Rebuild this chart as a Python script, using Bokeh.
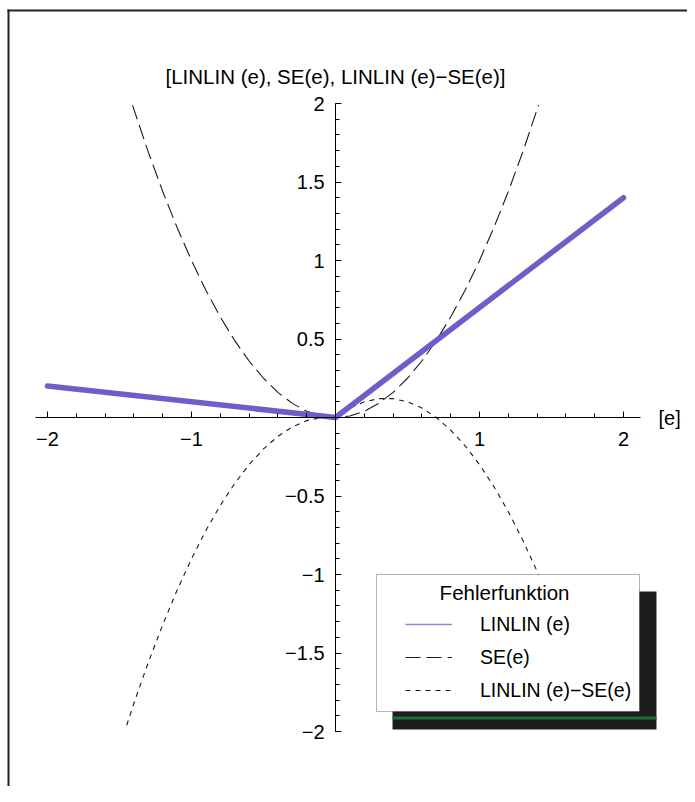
from bokeh.plotting import figure
from bokeh.models import (Range1d, FixedTicker, Label, BoxAnnotation, Legend, LegendItem,
                          ColumnDataSource)
from bokeh.core.properties import value
from bokeh.embed import file_html
from bokeh.resources import INLINE

# ---------------- data ----------------
lin_e = [-2.0, 0.0, 2.0]
lin_v = [0.20, 0.0, 1.40]

se_e = [-1.41, -1.3, -1.2, -1.1, -1.0, -0.9, -0.8, -0.7, -0.6, -0.5, -0.4, -0.3, -0.2, -0.1,
        0.0, 0.1, 0.2, 0.3, 0.4, 0.5, 0.6, 0.7, 0.8, 0.9, 1.0, 1.1, 1.2, 1.3, 1.41]
se_v = [1.99, 1.69, 1.44, 1.21, 1.00, 0.81, 0.64, 0.49, 0.36, 0.25, 0.16, 0.09, 0.04, 0.01,
        0.0, 0.01, 0.04, 0.09, 0.16, 0.25, 0.36, 0.49, 0.64, 0.81, 1.00, 1.21, 1.44, 1.69, 1.99]

diff_e = [-1.45, -1.4, -1.3, -1.2, -1.1, -1.0, -0.9, -0.8, -0.7, -0.6, -0.5, -0.4, -0.3, -0.2, -0.1,
          0.0, 0.1, 0.2, 0.3, 0.4, 0.5, 0.6, 0.7, 0.8, 0.9, 1.0, 1.1, 1.2, 1.3, 1.4, 1.5, 1.6, 1.7, 1.8]
diff_v = [-1.96, -1.82, -1.56, -1.32, -1.10, -0.90, -0.72, -0.56, -0.42, -0.30, -0.20, -0.12, -0.06, -0.02, 0.0,
          0.0, 0.06, 0.10, 0.12, 0.12, 0.10, 0.06, 0.0, -0.08, -0.18, -0.30, -0.44, -0.60, -0.78, -0.98,
          -1.20, -1.44, -1.70, -1.98]

x_tick_values = [-2, -1, 1, 2]
x_tick_labels = ["\u22122", "\u22121", "1", "2"]
y_tick_values = [2, 1.5, 1, 0.5, -0.5, -1, -1.5, -2]
y_tick_labels = ["2", "1.5", "1", "0.5", "\u22120.5", "\u22121", "\u22121.5", "\u22122"]

series_names = ["LINLIN (e)", "SE(e)", "LINLIN (e)\u2212SE(e)"]
title_text = "[LINLIN (e), SE(e), LINLIN (e)\u2212SE(e)]"
legend_title = "Fehlerfunktion"

FONT = "Liberation Sans"
X0, X1 = -2.3264, 2.4444
Y0, Y1 = -2.3503, 2.6561

p = figure(width=687, height=786, output_backend="svg", toolbar_location=None,
           x_range=Range1d(X0, X1), y_range=Range1d(Y0, Y1),
           min_border=0, min_border_left=0, min_border_bottom=0,
           outline_line_color=None, background_fill_color="white", border_fill_color="white")
p.grid.visible = False

x_major = [-2, -1, 0, 1, 2]
y_major = [-2, -1.5, -1, -0.5, 0, 0.5, 1, 1.5, 2]

# x axis crossing at y=0 (tick labels drawn as text in the plot)
xa = p.xaxis[0]
xa.fixed_location = 0
xa.bounds = (-2.08, 2.12)
xa.ticker = FixedTicker(ticks=x_major,
                        minor_ticks=[round(-2.0 + 0.2 * i, 2) for i in range(21)])
xa.major_label_overrides = {v: "" for v in x_major}
xa.major_label_standoff = 0
xa.major_tick_in = 6
xa.major_tick_out = 0
xa.minor_tick_in = 4
xa.minor_tick_out = 0
xa.axis_line_color = "black"
xa.major_tick_line_color = "black"
xa.minor_tick_line_color = "black"

# y axis crossing at x=0 (tick labels drawn as text in the plot)
ya = p.yaxis[0]
ya.fixed_location = 0
ya.bounds = (-2, 2)
ya.ticker = FixedTicker(ticks=y_major,
                        minor_ticks=[round(-2.0 + 0.1 * i, 2) for i in range(41)])
ya.major_label_overrides = {v: "" for v in y_major}
ya.major_label_standoff = 0
ya.major_tick_in = 6
ya.major_tick_out = 0
ya.minor_tick_in = 4
ya.minor_tick_out = 0
ya.axis_line_color = "black"
ya.major_tick_line_color = "black"
ya.minor_tick_line_color = "black"

ysrc = ColumnDataSource(dict(x=[-0.076] * len(y_tick_values), y=y_tick_values, t=y_tick_labels))
p.text(x="x", y="y", text="t", source=ysrc, text_align="right", text_baseline="middle",
       text_font=value(FONT), text_font_size="20px", text_color="black")
xsrc = ColumnDataSource(dict(x=x_tick_values, y=[-0.0892] * len(x_tick_values), t=x_tick_labels))
p.text(x="x", y="y", text="t", source=xsrc, text_align="center", text_baseline="top",
       text_font=value(FONT), text_font_size="20px", text_color="black")

# curves
r_se = p.line(se_e, se_v, line_color="#1a1a1a", line_width=1.1, line_dash="15 6")
r_diff = p.line(diff_e, diff_v, line_color="#1a1a1a", line_width=1.1, line_dash="5 5")
r_lin_thin = p.line(lin_e, lin_v, line_color="#9088d8", line_width=1.5)
r_lin = p.line(lin_e, lin_v, line_color="#6c5fc8", line_width=5.5, line_cap="round", line_join="round")

# title and axis label
p.add_layout(Label(x=0, y=2.17, text=title_text, text_align="center", text_baseline="middle",
                   text_font=FONT, text_font_size="20.5px", text_color="black"))
p.add_layout(Label(x=2.243, y=0, text="[e]", text_align="left", text_baseline="middle",
                   text_font=FONT, text_font_size="20px", text_color="black"))

# outer border (left and top)
p.add_layout(BoxAnnotation(left=-2.2778, right=-2.2639, bottom=Y0, top=2.5987,
                           fill_color="#222222", fill_alpha=1, line_color=None))
p.add_layout(BoxAnnotation(left=-2.2778, right=X1, bottom=2.586, top=2.5987,
                           fill_color="#222222", fill_alpha=1, line_color=None))

# legend shadow and box
p.add_layout(BoxAnnotation(left=0.396, right=2.229, bottom=-1.987, top=-1.108,
                           fill_color="#1c1c1c", fill_alpha=1, line_color=None))
p.add_layout(BoxAnnotation(left=0.396, right=2.229, bottom=-1.924, top=-1.904,
                           fill_color="#1f6e3a", fill_alpha=1, line_color=None))
p.add_layout(BoxAnnotation(left=0.285, right=2.111, bottom=-1.873, top=-1.0,
                           fill_color="white", fill_alpha=1, line_color="black", line_width=1))
p.add_layout(Label(x=1.174, y=-1.115, text=legend_title, text_align="center", text_baseline="middle",
                   text_font=FONT, text_font_size="20.5px", text_color="black"))

legend = Legend(items=[LegendItem(label=series_names[0], renderers=[r_lin_thin]),
                       LegendItem(label=series_names[1], renderers=[r_se]),
                       LegendItem(label=series_names[2], renderers=[r_diff])],
                location=(405, 84), padding=0, margin=0, spacing=9,
                glyph_width=47, glyph_height=24, label_height=24, label_standoff=28,
                label_text_font=FONT, label_text_font_size="19.5px", label_text_color="black",
                background_fill_alpha=0, border_line_color=None)
p.add_layout(legend)

open("out.html", "w").write(file_html(p, INLINE))
